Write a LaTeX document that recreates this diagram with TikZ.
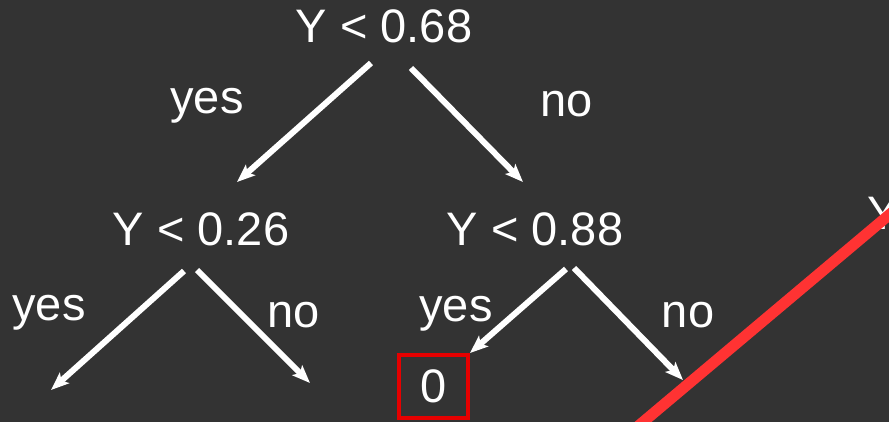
\documentclass[tikz,border=0pt]{standalone}
\usepackage{fontspec}
\setmainfont{Liberation Sans}
\usetikzlibrary{positioning,calc,arrows.meta}

\definecolor{slidebg}{RGB}{51,51,51}
\definecolor{cutred}{RGB}{255,51,51}
\definecolor{boxred}{RGB}{230,0,0}

\begin{document}
\begin{tikzpicture}[x=1pt,y=-1pt,
    every node/.style={text=white,inner sep=0pt,font=\fontsize{47}{51}\selectfont},
    split/.style={anchor=base},
    answer/.style={anchor=base},
    leafbox/.style={draw=boxred,line width=4pt,minimum width=69pt,minimum height=63pt},
    branch/.style={draw=white,line width=6pt,-{Stealth[length=18pt,width=14pt,inset=4pt]}}]
      \fill[slidebg] (0,0) rectangle (889,422);
      \useasboundingbox (0,0) rectangle (889,422);
      \clip (0,0) rectangle (889,422);

      \node[split](root) at (384,43){Y < 0.68};
      \node[split](lsplit) at (201,246){Y < 0.26};
      \node[split](rsplit) at (535,246){Y < 0.88};
      \node[answer](yesA) at (207,114){yes};
      \node[answer](noA) at (567,117){no};
      \node[answer](yesB) at (49,320){yes};
      \node[answer](noB) at (294,327){no};
      \node[answer](yesC) at (456,321){yes};
      \node[answer](noC) at (688,327){no};
      \node[leafbox](zero) at (433.5,386.5){0};
      \node[anchor=base west](farY) at (867,230){Y};

      \coordinate (leafA) at (51,390);
      \coordinate (leafB) at (310,383);
      \coordinate (leafD) at (683,380);

      \path
      ([shift={(-13,20)}]root.base) edge[branch] ([shift={(36,-64)}]lsplit.base)
      ([shift={(27,25)}]root.base) edge[branch] ([shift={(-12,-64)}]rsplit.base)
      ([shift={(-17,25)}]lsplit.base) edge[branch] (leafA)
      ([shift={(-4,24)}]lsplit.base) edge[branch] (leafB)
      ([shift={(31,23)}]rsplit.base) edge[branch] (zero.north east)
      ([shift={(39,22)}]rsplit.base) edge[branch] (leafD);

      % cut line
      \coordinate (cutA) at (620,441.4);
      \coordinate (cutB) at (910,197.3);
      \draw[cutred,line width=11pt] (cutA) -- (cutB);
    \end{tikzpicture}
\end{document}
